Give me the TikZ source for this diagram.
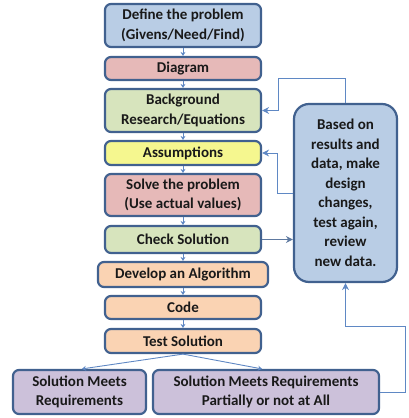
\documentclass[tikz,border=0pt]{standalone}
\usepackage{fontspec}
\setmainfont{Carlito}
\usetikzlibrary{arrows.meta,calc}
\definecolor{bord}{HTML}{41618F}
\definecolor{cblue}{HTML}{B9CDE5}
\definecolor{cpink}{HTML}{E6B9B8}
\definecolor{cgreen}{HTML}{D7E4BD}
\definecolor{cyellow}{HTML}{F5F78F}
\definecolor{corange}{HTML}{FAD3B3}
\definecolor{cpurple}{HTML}{CCC1DA}
\definecolor{lnk}{HTML}{5F88C4}
\begin{document}
\begin{tikzpicture}[x=1pt,y=-1pt,
  box/.style={draw=bord,line width=2.2pt,rounded corners=6pt,align=center,
    font=\fontsize{15}{19.5}\selectfont\bfseries,text=black!90,inner sep=0pt,
    minimum width=156pt},
  flow/.style={draw=lnk,line width=0.9pt,-{Stealth[length=4pt,width=5pt]}},
  fb/.style={draw=lnk,line width=1pt,-{Stealth[length=7pt,width=7pt]}}]
\useasboundingbox (0,0) rectangle (409,418);
\node[box,fill=cblue,minimum height=43pt] (def) at (183,25.5) {Define the problem\\(Givens/Need/Find)};
\node[box,fill=cpink,minimum height=23pt] (diag) at (183,68.5) {Diagram};
\node[box,fill=cgreen,minimum height=43pt] (back) at (183,110.5) {Background\\Research/Equations};
\node[box,fill=cyellow,minimum height=24pt] (assum) at (183,153) {Assumptions};
\node[box,fill=cpink,minimum height=42pt] (solve) at (183,195) {Solve the problem\\(Use actual values)};
\node[box,fill=cgreen,minimum height=27pt] (check) at (183,239.5) {Check Solution};
\node[box,fill=corange,minimum height=25pt,minimum width=170pt] (algo) at (183,274.5) {Develop an Algorithm};
\node[box,fill=corange,minimum height=23pt] (code) at (183,307.5) {Code};
\node[box,fill=corange,minimum height=24pt] (test) at (183,341) {Test Solution};
\node[box,fill=cpurple,minimum height=44pt,minimum width=133pt] (meet) at (79.5,392) {Solution Meets\\Requirements};
\node[box,fill=cpurple,minimum height=44pt,minimum width=226pt] (part) at (266,392) {Solution Meets Requirements\\Partially or not at All};
\node[box,fill=cblue,rounded corners=15pt,minimum height=178pt,minimum width=103pt] (big) at (345.5,193)
  {Based on\\results and\\data, make\\design\\changes,\\test again,\\review\\new data.};
\draw[flow] (def) -- (diag);
\draw[flow] (diag) -- (back);
\draw[flow] (back) -- (assum);
\draw[flow] (assum) -- (solve);
\draw[flow] (solve) -- (check);
\draw[flow] (check) -- (algo);
\draw[flow] (algo) -- (code);
\draw[flow] (code) -- (test);
\coordinate (tl) at ($(meet.north)+(2.5,0)$);
\coordinate (tr) at ($(part.north)+(-4,0)$);
\draw[flow] (test.south) -- (tl);
\draw[flow] (test.south) -- (tr);
\draw[draw=bord!85,line width=1.1pt,-{Stealth[length=7pt,width=7pt]}] (check.east) -- (check.east -| big.west);
\draw[fb] (big.north) -- ++(0,-24) -| ($(back.east)+(16,0)$) -- (back.east);
\draw[fb] (big.west) -- ++(-15,0) |- (assum.east);
\draw[fb] (part.east) -| ++(25,-66) -| (big.south);
\end{tikzpicture}
\end{document}
